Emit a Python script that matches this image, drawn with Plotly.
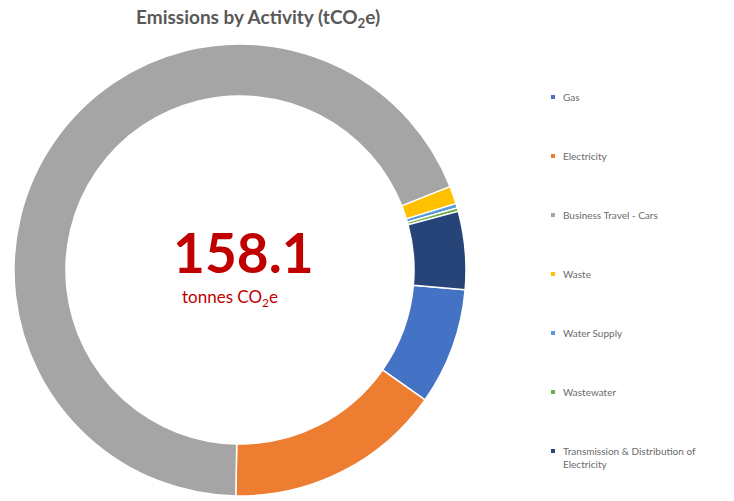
import plotly.graph_objects as go

# Emissions by activity, tonnes CO2e
activities = [
    "Gas",
    "Electricity",
    "Business Travel - Cars",
    "Waste",
    "Water Supply",
    "Wastewater",
    "Transmission & Distribution of<br>Electricity",
]
emissions = [13.2, 24.6, 108.6, 2.0, 0.5, 0.4, 8.8]
colors = ["#4472C4", "#ED7D31", "#A5A5A5", "#FFC000", "#5B9BD5", "#70AD47", "#264478"]

total = round(sum(emissions), 1)

W, H = 734, 501
cx, cy, r = 240, 270, 226  # ring centre and outer radius (px)

fig = go.Figure()
fig.add_trace(go.Pie(
    labels=activities,
    values=emissions,
    marker=dict(colors=colors, line=dict(color="white", width=1.5)),
    hole=0.77,
    sort=False,
    direction="clockwise",
    rotation=95,
    textinfo="none",
    hoverinfo="label+value",
    showlegend=False,
    domain=dict(x=[(cx - r) / W, (cx + r) / W],
                y=[(H - cy - r) / H, (H - cy + r) / H]),
))

font = "Lato, 'Open Sans', sans-serif"
annotations = [
    dict(text="<b>Emissions by Activity (tCO<sub>2</sub>e)</b>", x=258 / W, y=1 - 18 / H,
         xref="paper", yref="paper", showarrow=False, xanchor="center", yanchor="middle",
         font=dict(family=font, size=19, color="#595959")),
    dict(text=f"<b>{total}</b>", x=243 / W, y=1 - 252 / H,
         xref="paper", yref="paper", showarrow=False, xanchor="center", yanchor="middle",
         font=dict(family=font, size=55, color="#C00000")),
    dict(text="tonnes CO<sub>2</sub>e", x=230 / W, y=1 - 298 / H,
         xref="paper", yref="paper", showarrow=False, xanchor="center", yanchor="middle",
         font=dict(family=font, size=17, color="#C00000")),
]

# Legend column on the right: small square swatch plus label
shapes = []
marker_x, text_x, legend_top, legend_step, sw = 553, 561, 97, 59, 4
for i, (name, col) in enumerate(zip(activities, colors)):
    y_px = legend_top + i * legend_step
    shapes.append(dict(
        type="rect", xref="paper", yref="paper",
        x0=(marker_x - sw / 2) / W, x1=(marker_x + sw / 2) / W,
        y0=1 - (y_px + sw / 2) / H, y1=1 - (y_px - sw / 2) / H,
        fillcolor=col, line=dict(width=0),
    ))
    two_line = "<br>" in name
    annotations.append(dict(
        text=name,
        x=text_x / W, y=1 - y_px / H, xref="paper", yref="paper",
        showarrow=False, xanchor="left",
        yanchor="top" if two_line else "middle",
        yshift=8 if two_line else 0,
        align="left",
        font=dict(family=font, size=10, color="#6B6B6B"),
    ))

fig.update_layout(
    width=W, height=H,
    margin=dict(l=0, r=0, t=0, b=0),
    paper_bgcolor="white",
    plot_bgcolor="white",
    annotations=annotations,
    shapes=shapes,
)

fig.write_html("out.html")
